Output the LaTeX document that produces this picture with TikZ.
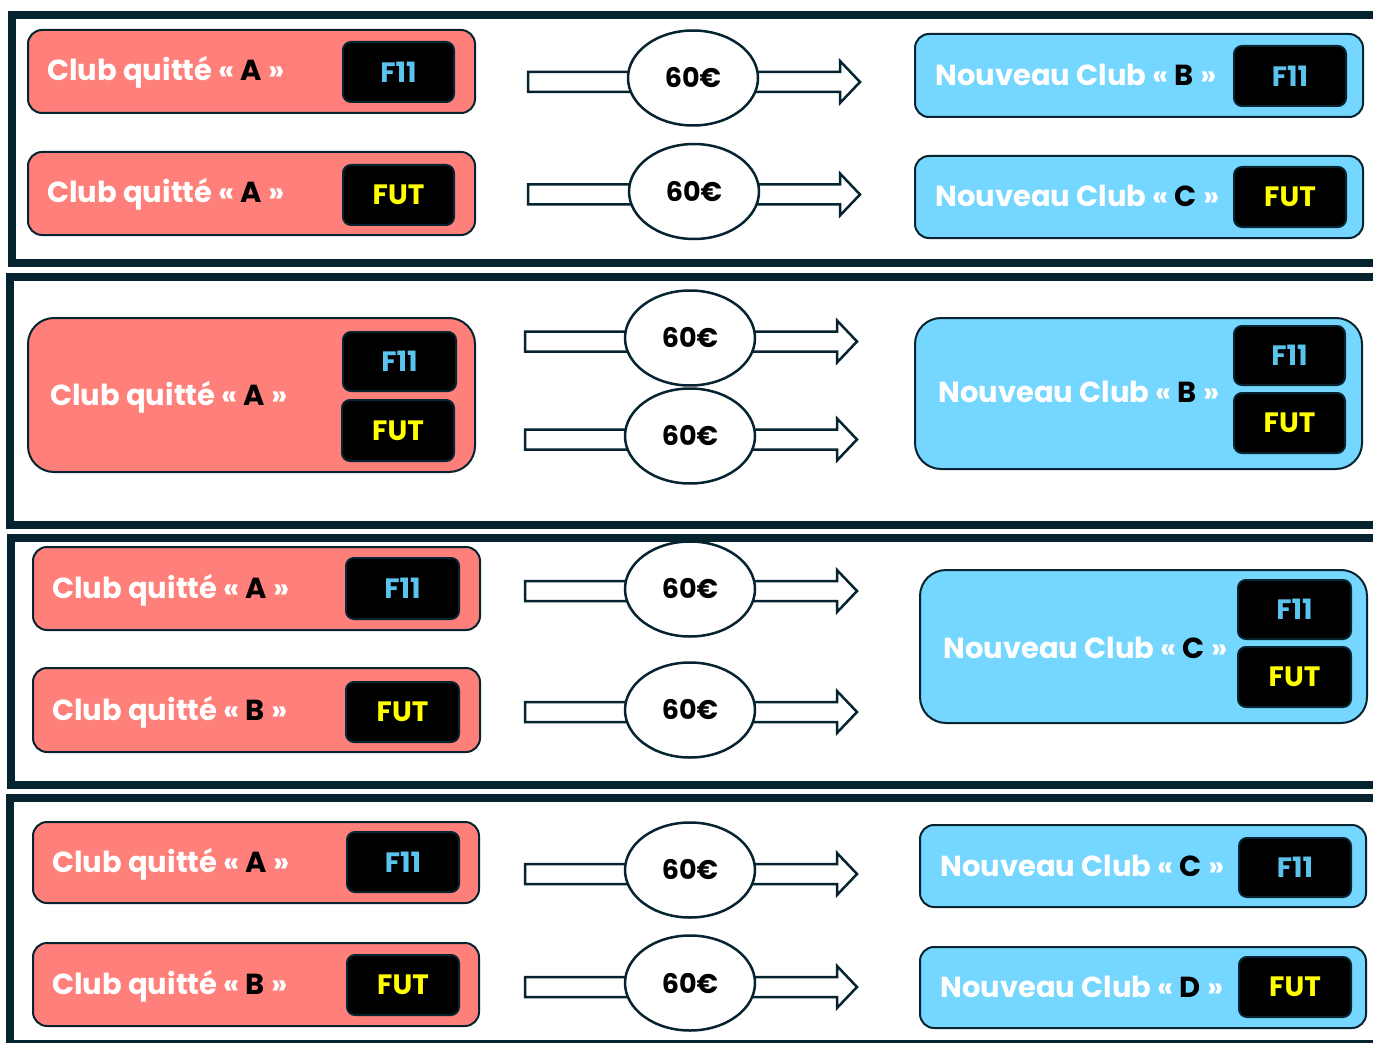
\documentclass[tikz,border=0pt]{standalone}
\usepackage{fontspec}
\newfontfamily\pop{Poppins}
\usetikzlibrary{fit,shapes.geometric}
\definecolor{dk}{HTML}{062330}
\definecolor{salmon}{HTML}{FF7F7A}
\definecolor{sky}{HTML}{75D6FF}
\definecolor{fblue}{HTML}{5BC4EE}
\definecolor{fyel}{HTML}{FFFF00}
\tikzset{
  frame/.style={draw=dk, line width=8pt, line join=miter},
  rbox/.style={draw=dk, fill=salmon, line width=2pt, rounded corners=14pt, inner sep=0pt},
  bbox/.style={draw=dk, fill=sky, line width=2pt, rounded corners=14pt, inner sep=0pt},
  tag/.style={draw=dk, fill=black, line width=2pt, rounded corners=8pt, inner sep=0pt,
    font=\pop\bfseries\fontsize{28}{28}\selectfont},
  f11/.style={tag, text=fblue},
  fut/.style={tag, text=fyel},
  lbl/.style={text=white, inner sep=0pt, font=\pop\bfseries\fontsize{29}{29}\selectfont},
  money/.style={ellipse, draw=dk, fill=white, line width=2.5pt, minimum width=130pt,
    minimum height=95pt, inner sep=0pt, font=\pop\bfseries\fontsize{27}{27}\selectfont},
  blk/.style={draw=dk, fill=white, line width=2.5pt, line join=miter},
}
% tag node: #1 style, #2 name, #3 x1, #4 y1, #5 x2, #6 y2, #7 text
\newcommand\tagat[7]{%
  \node[#1, minimum width={#5-#3}, minimum height={#6-#4}] (#2) at ({(#3+#5)/2},{(#4+#6)/2}) {#7};}
% block arrow: #1 name, #2 x-left, #3 shaft centre y, #4 ellipse centre x, #5 ellipse centre y
\newcommand\flowarrow[5]{%
  \draw[blk] (#2,#3-10) -- (#2+312,#3-10) -- (#2+312,#3-21) -- (#2+332,#3)
    -- (#2+312,#3+21) -- (#2+312,#3+10) -- (#2,#3+10) -- cycle;
  \node[money] (#1) at (#4,#5) {60€};
}
\begin{document}
\begin{tikzpicture}[x=1pt,y=-1pt]
\useasboundingbox (0,0) rectangle (1373,1043);
\clip (0,0) rectangle (1373,1043);
\fill[white] (0,0) rectangle (1373,1043);
% frames (open on the right)
\draw[frame] (1400,15) -- (12,15) -- (12,262.5) -- (1400,262.5);
\draw[frame] (1400,277) -- (9.5,277) -- (9.5,524.5) -- (1400,524.5);
\draw[frame] (1400,537.5) -- (11,537.5) -- (11,784.5) -- (1400,784.5);
\draw[frame] (1400,797.5) -- (9.5,797.5) -- (9.5,1044) -- (1400,1044);

% ---------- frame 1 ----------
\node[rbox, fit={(28,30) (475,113)}] (r11) {};
\node[lbl, anchor=base west] (l11) at (47,81) {Club quitté « \textcolor{black}{A} »};
\tagat{f11}{t11}{343}{42}{454}{102}{F11}
\node[rbox, fit={(28,152) (475,235)}] (r12) {};
\node[lbl, anchor=base west] (l12) at (47,203) {Club quitté « \textcolor{black}{A} »};
\tagat{fut}{t12}{343}{165}{454}{225}{FUT}

\flowarrow{m11}{528}{82}{693}{78}
\flowarrow{m12}{528}{194.5}{694}{191.5}

\node[bbox, fit={(915,34) (1363,117)}] (b11) {};
\node[lbl, anchor=base west] (n11) at (935,85.5) {Nouveau Club « \textcolor{black}{B} »};
\tagat{f11}{u11}{1234}{46}{1346}{106}{F11}
\node[bbox, fit={(915,156) (1363,238)}] (b12) {};
\node[lbl, anchor=base west] (n12) at (935,207) {Nouveau Club « \textcolor{black}{C} »};
\tagat{fut}{u12}{1234}{167}{1346}{227}{FUT}

% ---------- frame 2 ----------
\node[rbox, rounded corners=26pt, fit={(28,318) (475,472)}] (r21) {};
\node[lbl, anchor=base west] (l21) at (50,405) {Club quitté « \textcolor{black}{A} »};
\tagat{f11}{t21}{343}{332}{456}{391}{F11}
\tagat{fut}{t22}{342}{400}{454}{461}{FUT}

\flowarrow{m21}{525}{341.5}{690}{338}
\flowarrow{m22}{525}{439.5}{690}{436}

\node[bbox, rounded corners=26pt, fit={(915,318) (1362,469)}] (b21) {};
\node[lbl, anchor=base west] (n21) at (938,402) {Nouveau Club « \textcolor{black}{B} »};
\tagat{f11}{u21}{1234}{326}{1345}{385}{F11}
\tagat{fut}{u22}{1234}{393}{1345}{453}{FUT}

% ---------- frame 3 ----------
\node[rbox, fit={(33,547) (480,630)}] (r31) {};
\node[lbl, anchor=base west] (l31) at (52,598.5) {Club quitté « \textcolor{black}{A} »};
\tagat{f11}{t31}{346}{558}{459}{619}{F11}
\node[rbox, fit={(33,668) (480,752)}] (r32) {};
\node[lbl, anchor=base west] (l32) at (52,720) {Club quitté « \textcolor{black}{B} »};
\tagat{fut}{t32}{346}{682}{459}{742}{FUT}

\flowarrow{m31}{525}{591}{690}{589}
\flowarrow{m32}{525}{712}{690}{710}

\node[bbox, rounded corners=26pt, fit={(920,570) (1367,723)}] (b31) {};
\node[lbl, anchor=base west] (n31) at (943,658) {Nouveau Club « \textcolor{black}{C} »};
\tagat{f11}{u31}{1238}{580}{1351}{639}{F11}
\tagat{fut}{u32}{1238}{647}{1351}{707}{FUT}

% ---------- frame 4 ----------
\node[rbox, fit={(33,822) (479,903)}] (r41) {};
\node[lbl, anchor=base west] (l41) at (52,872) {Club quitté « \textcolor{black}{A} »};
\tagat{f11}{t41}{347}{832}{459}{892}{F11}
\node[rbox, fit={(33,943) (479,1026)}] (r42) {};
\node[lbl, anchor=base west] (l42) at (52,994.5) {Club quitté « \textcolor{black}{B} »};
\tagat{fut}{t42}{347}{955}{459}{1015}{FUT}

\flowarrow{m41}{525}{874}{690}{870}
\flowarrow{m42}{525}{987}{690}{983}

\node[bbox, fit={(920,825) (1366,907)}] (b41) {};
\node[lbl, anchor=base west] (n41) at (940,876) {Nouveau Club « \textcolor{black}{C} »};
\tagat{f11}{u41}{1239}{838}{1351}{897}{F11}
\node[bbox, fit={(920,947) (1366,1028)}] (b42) {};
\node[lbl, anchor=base west] (n42) at (940,997) {Nouveau Club « \textcolor{black}{D} »};
\tagat{fut}{u42}{1239}{957}{1351}{1017}{FUT}
\end{tikzpicture}
\end{document}
